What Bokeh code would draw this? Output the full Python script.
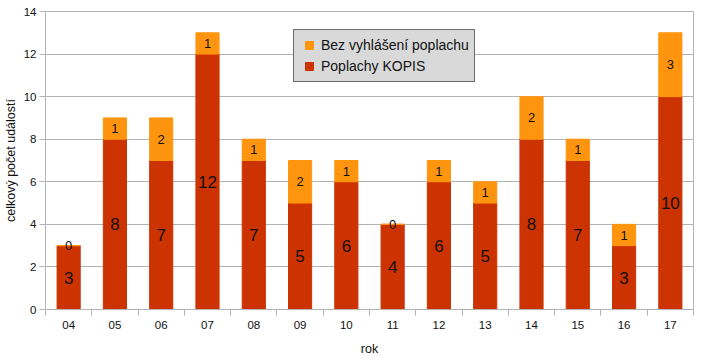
from bokeh.plotting import figure
from bokeh.models import ColumnDataSource, FixedTicker, Legend, LegendItem, Range1d
from bokeh.core.properties import value
from bokeh.embed import file_html
from bokeh.resources import INLINE

years = ["04", "05", "06", "07", "08", "09", "10", "11", "12", "13", "14", "15", "16", "17"]
kopis = [3, 8, 7, 12, 7, 5, 6, 4, 6, 5, 8, 7, 3, 10]
bez = [0, 1, 2, 1, 1, 2, 1, 0, 1, 1, 2, 1, 1, 3]
y_ticks = [0, 2, 4, 6, 8, 10, 12, 14]

C_KOPIS = "#cc3300"
C_BEZ = "#ff950e"
FONT = "Liberation Sans"

xs = list(range(len(years)))
tops = [k + b for k, b in zip(kopis, bez)]
src = ColumnDataSource(dict(
    x=xs, kopis=kopis, bez=bez, top=tops,
    kopis_mid=[k / 2 for k in kopis],
    bez_mid=[k + b / 2 for k, b in zip(kopis, bez)],
    kopis_lbl=[str(k) for k in kopis],
    bez_lbl=[str(b) for b in bez],
))

p = figure(width=700, height=358, output_backend="svg", toolbar_location=None,
           x_range=Range1d(-0.5, len(years) - 0.5), y_range=Range1d(0, 14),
           min_border_left=0, min_border_right=7, min_border_top=11, min_border_bottom=49)

p.vbar(x="x", bottom=0, top="kopis", width=0.5, source=src,
       fill_color=C_KOPIS, line_color=C_KOPIS)
p.vbar(x="x", bottom="kopis", top="top", width=0.5, source=src,
       fill_color=C_BEZ, line_color=C_BEZ)

p.text(x="x", y="kopis_mid", text="kopis_lbl", source=src, text_align="center",
       text_baseline="middle", text_font=value(FONT), text_font_size="17px",
       text_color="#111111")
p.text(x="x", y="bez_mid", text="bez_lbl", source=src, text_align="center",
       text_baseline="middle", text_font=value(FONT), text_font_size="13px",
       text_color="#111111")

# legend swatches (renderers with a single non-drawn point, used only for legend glyphs)
nan = float("nan")
s_bez = p.scatter(x=[nan], y=[nan], marker="square", fill_color=C_BEZ, line_color=C_BEZ)
s_kop = p.scatter(x=[nan], y=[nan], marker="square", fill_color=C_KOPIS, line_color=C_KOPIS)

# axes
p.xaxis.ticker = FixedTicker(ticks=xs, minor_ticks=[i - 0.5 for i in range(len(years) + 1)])
p.xaxis.major_label_overrides = {i: y for i, y in enumerate(years)}
p.xaxis.major_tick_line_color = None
p.xaxis.minor_tick_out = 6
p.xaxis.minor_tick_in = 0
p.xaxis.minor_tick_line_color = "#b3b3b3"
p.xaxis.axis_line_color = "#b3b3b3"
p.xaxis.axis_label = "rok"
p.xaxis.major_label_standoff = 5
p.xaxis.axis_label_standoff = 10

p.yaxis.ticker = FixedTicker(ticks=y_ticks)
p.yaxis.minor_tick_line_color = None
p.yaxis.major_tick_out = 6
p.yaxis.major_tick_in = 0
p.yaxis.major_tick_line_color = "#b3b3b3"
p.yaxis.axis_line_color = "#b3b3b3"
p.yaxis.axis_label = "celkový počet událostí"
p.yaxis.major_label_standoff = 3
p.yaxis.axis_label_standoff = 3

for ax in (p.xaxis, p.yaxis):
    ax.major_label_text_font = FONT
    ax.major_label_text_font_size = "11.5px"
    ax.major_label_text_color = "#111111"
    ax.axis_label_text_font = FONT
    ax.axis_label_text_font_size = "12.5px"
    ax.axis_label_text_font_style = "normal"
    ax.axis_label_text_color = "#111111"

p.xgrid.grid_line_color = None
p.ygrid.ticker = FixedTicker(ticks=y_ticks)
p.ygrid.grid_line_color = "#b3b3b3"
p.outline_line_color = "#b3b3b3"

legend = Legend(items=[LegendItem(label="Bez vyhlášení poplachu", renderers=[s_bez]),
                       LegendItem(label="Poplachy KOPIS", renderers=[s_kop])],
                location=(248, 227))
legend.background_fill_color = "#d9d9d9"
legend.background_fill_alpha = 1
legend.border_line_color = "#000000"
legend.border_line_width = 1
legend.label_text_font = FONT
legend.label_text_font_size = "14px"
legend.label_text_color = "#111111"
legend.glyph_width = 20
legend.glyph_height = 20
legend.label_height = 20
legend.spacing = 1
legend.padding = 5
legend.margin = 0
legend.label_standoff = 2
p.add_layout(legend, "center")

open("out.html", "w").write(file_html(p, INLINE))
